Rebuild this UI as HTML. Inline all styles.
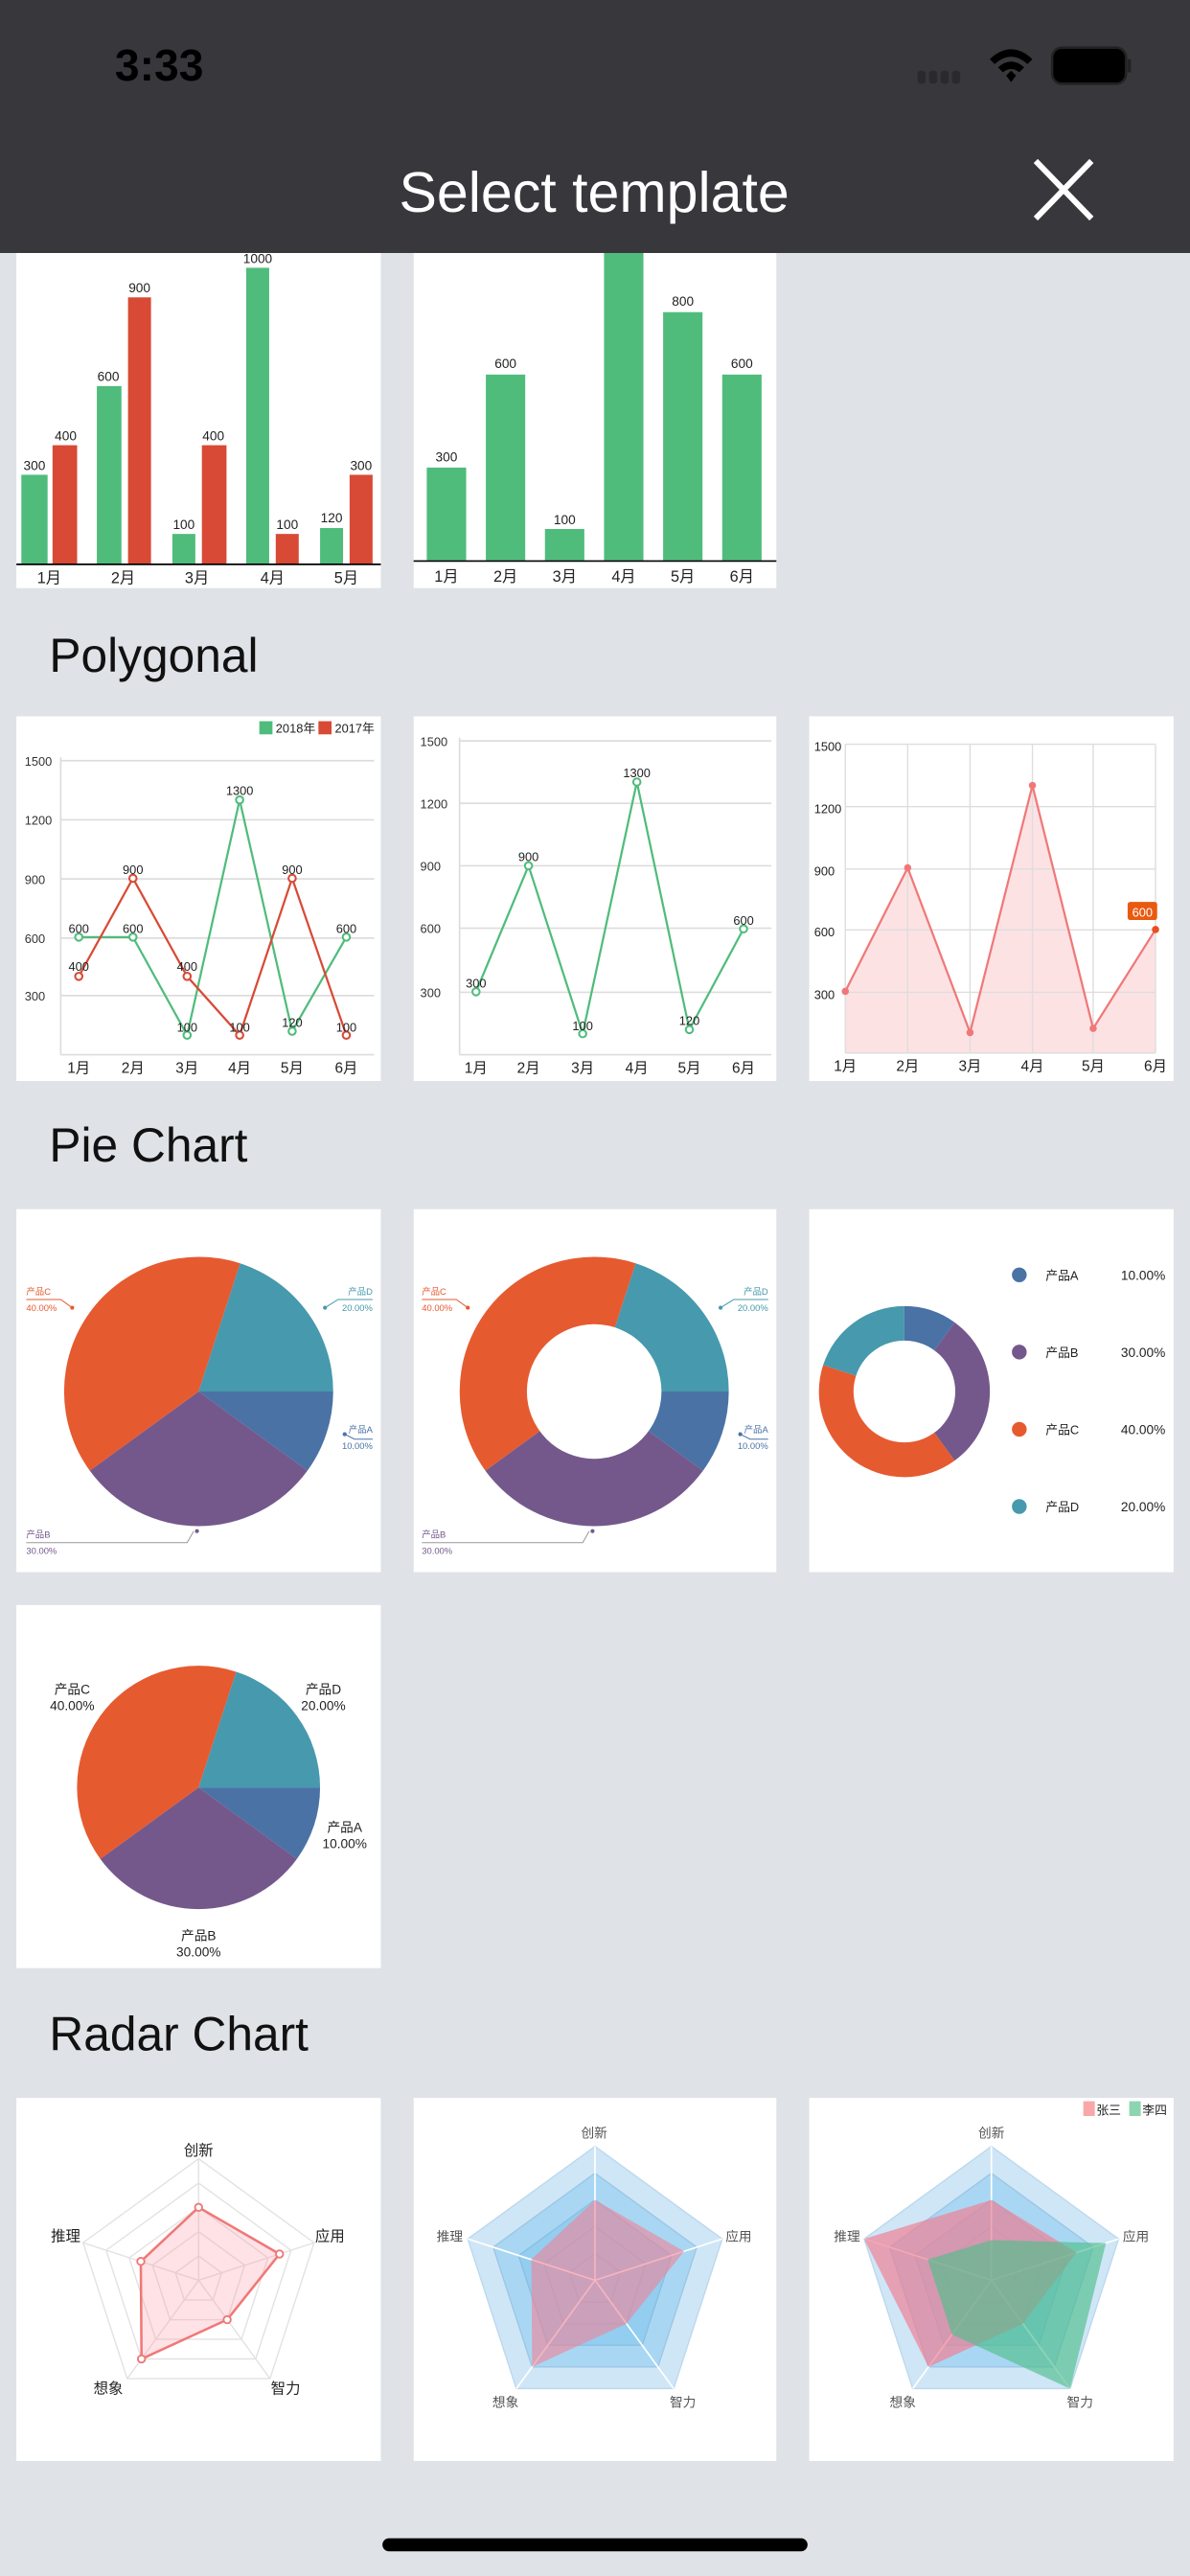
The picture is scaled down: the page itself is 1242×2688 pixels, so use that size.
<!DOCTYPE html>
<html><head><meta charset="utf-8"><style>
html,body{margin:0;padding:0;background:#dfe2e6;}
svg{display:block}
text{font-family:"Liberation Sans","Noto Sans CJK SC",sans-serif;}
</style></head><body>
<svg width="1242" height="2688" viewBox="0 0 725 1568" preserveAspectRatio="none" xmlns="http://www.w3.org/2000/svg">
<rect x="0" y="0" width="725" height="1568" fill="#dfe2e6"/>
<rect x="10" y="154" width="222" height="204" fill="#fff"/>
<rect x="252" y="154" width="221" height="204" fill="#fff"/>
<g fill="#4fbc7c">
<rect x="13" y="289" width="16" height="54"/><rect x="59" y="235" width="15" height="108"/><rect x="105" y="325" width="14" height="18"/><rect x="150" y="163" width="14" height="180"/><rect x="195" y="321.4" width="14" height="21.6"/>
</g>
<g fill="#d84a35">
<rect x="32" y="271" width="15" height="72"/><rect x="78" y="181" width="14" height="162"/><rect x="123" y="271" width="15" height="72"/><rect x="168" y="325" width="14" height="18"/><rect x="213" y="289" width="14" height="54"/>
</g>
<line x1="10" y1="343.5" x2="232" y2="343.5" stroke="#000" stroke-width="1"/>
<g font-size="8" text-anchor="middle" fill="#222">
<text x="21" y="286">300</text><text x="40" y="268">400</text><text x="66" y="232">600</text><text x="85" y="178">900</text><text x="112" y="322">100</text><text x="130" y="268">400</text><text x="157" y="160">1000</text><text x="175" y="322">100</text><text x="202" y="318">120</text><text x="220" y="286">300</text>
</g>
<g font-size="9.5" text-anchor="middle" fill="#222">
<text x="30" y="355">1月</text><text x="75" y="355">2月</text><text x="120" y="355">3月</text><text x="166" y="355">4月</text><text x="211" y="355">5月</text>
</g>
<g fill="#4fbc7c">
<rect x="260" y="284.6" width="24" height="56.4"/><rect x="296" y="228" width="24" height="113"/><rect x="332" y="322" width="24" height="19"/><rect x="368" y="154" width="24" height="187"/><rect x="404" y="190" width="24" height="151"/><rect x="440" y="228" width="24" height="113"/>
</g>
<line x1="252" y1="341.5" x2="473" y2="341.5" stroke="#000" stroke-width="1"/>
<g font-size="8" text-anchor="middle" fill="#222">
<text x="272" y="281">300</text><text x="308" y="224">600</text><text x="344" y="319">100</text><text x="416" y="186">800</text><text x="452" y="224">600</text>
</g>
<g font-size="9.5" text-anchor="middle" fill="#222">
<text x="272" y="354">1月</text><text x="308" y="354">2月</text><text x="344" y="354">3月</text><text x="380" y="354">4月</text><text x="416" y="354">5月</text><text x="452" y="354">6月</text>
</g>
<rect x="0" y="0" width="725" height="154" fill="#38373c"/>
<text x="70" y="49" font-size="27" font-weight="bold" fill="#000">3:33</text>
<g fill="#2a2a2e"><rect x="559" y="43" width="5" height="8" rx="2"/><rect x="566" y="43" width="5" height="8" rx="2"/><rect x="573" y="43" width="5" height="8" rx="2"/><rect x="580" y="43" width="5" height="8" rx="2"/></g>
<path d="M603 36 Q616 24 629 36 L626 39 Q616 30 606 39 Z M608 41 Q616 34 624 41 L621 44 Q616 40 611 44 Z M613 46 L616 43 L619 46 L616 50 Z" fill="#000"/>
<rect x="641" y="29" width="45" height="22" rx="6" fill="#000" stroke="#222" stroke-width="1.5"/>
<rect x="687" y="36" width="2" height="8" fill="#222"/>
<text x="362" y="129" font-size="34.5" fill="#fff" text-anchor="middle">Select template</text>
<path d="M631 98 L665 133 M665 98 L631 133" stroke="#fff" stroke-width="3.5"/>
<g font-size="29" fill="#111">
<text x="30" y="409">Polygonal</text><text x="30" y="707">Pie Chart</text><text x="30" y="1248">Radar Chart</text>
</g>
<rect x="10" y="436" width="222" height="222" fill="#fff"/>
<g stroke="#ddd" stroke-width="1"><line x1="37" y1="463" x2="228" y2="463"/><line x1="37" y1="499" x2="228" y2="499"/><line x1="37" y1="535" x2="228" y2="535"/><line x1="37" y1="571" x2="228" y2="571"/><line x1="37" y1="606" x2="228" y2="606"/><line x1="37" y1="642" x2="228" y2="642"/><line x1="37" y1="461" x2="37" y2="642"/></g>
<g font-size="7.5" fill="#333"><text x="15" y="466">1500</text><text x="15" y="502">1200</text><text x="15" y="538">900</text><text x="15" y="574">600</text><text x="15" y="609">300</text></g>
<g font-size="9" fill="#222" text-anchor="middle"><text x="48" y="653">1月</text><text x="81" y="653">2月</text><text x="114" y="653">3月</text><text x="146" y="653">4月</text><text x="178" y="653">5月</text><text x="211" y="653">6月</text></g>
<rect x="158" y="439" width="8" height="8" fill="#4fbc7c"/><text x="168" y="446" font-size="7.5" fill="#222">2018年</text>
<rect x="194" y="439" width="8" height="8" fill="#d84a35"/><text x="204" y="446" font-size="7.5" fill="#222">2017年</text>
<polyline points="48,570.4 81,570.4 114,630.1 146,486.9 178,627.7 211,570.4" fill="none" stroke="#4fbc7c" stroke-width="1.3"/>
<polyline points="48,594.3 81,534.6 114,594.3 146,630.1 178,534.6 211,630.1" fill="none" stroke="#d84a35" stroke-width="1.3"/>
<g fill="#fff" stroke="#4fbc7c" stroke-width="1.2"><circle cx="48" cy="570.4" r="2.2"/><circle cx="81" cy="570.4" r="2.2"/><circle cx="114" cy="630.1" r="2.2"/><circle cx="146" cy="486.9" r="2.2"/><circle cx="178" cy="627.7" r="2.2"/><circle cx="211" cy="570.4" r="2.2"/></g>
<g fill="#fff" stroke="#d84a35" stroke-width="1.2"><circle cx="48" cy="594.3" r="2.2"/><circle cx="81" cy="534.6" r="2.2"/><circle cx="114" cy="594.3" r="2.2"/><circle cx="146" cy="630.1" r="2.2"/><circle cx="178" cy="534.6" r="2.2"/><circle cx="211" cy="630.1" r="2.2"/></g>
<g font-size="7.5" fill="#222" text-anchor="middle"><text x="48" y="568">600</text><text x="81" y="568">600</text><text x="114" y="628">100</text><text x="146" y="484">1300</text><text x="178" y="625">120</text><text x="211" y="568">600</text><text x="48" y="591">400</text><text x="81" y="532">900</text><text x="114" y="591">400</text><text x="146" y="628">100</text><text x="178" y="532">900</text><text x="211" y="628">100</text></g>
<rect x="252" y="436" width="221" height="222" fill="#fff"/>
<g stroke="#ddd" stroke-width="1"><line x1="280" y1="451" x2="470" y2="451"/><line x1="280" y1="489" x2="470" y2="489"/><line x1="280" y1="527" x2="470" y2="527"/><line x1="280" y1="565" x2="470" y2="565"/><line x1="280" y1="604" x2="470" y2="604"/><line x1="280" y1="642" x2="470" y2="642"/><line x1="280" y1="449" x2="280" y2="642"/></g>
<g font-size="7.5" fill="#333"><text x="256" y="454">1500</text><text x="256" y="492">1200</text><text x="256" y="530">900</text><text x="256" y="568">600</text><text x="256" y="607">300</text></g>
<g font-size="9" fill="#222" text-anchor="middle"><text x="290" y="653">1月</text><text x="322" y="653">2月</text><text x="355" y="653">3月</text><text x="388" y="653">4月</text><text x="420" y="653">5月</text><text x="453" y="653">6月</text></g>
<polyline points="290,603.7 322,527 355,629.2 388,476 420,626.7 453,565.4" fill="none" stroke="#4fbc7c" stroke-width="1.3"/>
<g fill="#fff" stroke="#4fbc7c" stroke-width="1.2"><circle cx="290" cy="603.7" r="2.2"/><circle cx="322" cy="527" r="2.2"/><circle cx="355" cy="629.2" r="2.2"/><circle cx="388" cy="476" r="2.2"/><circle cx="420" cy="626.7" r="2.2"/><circle cx="453" cy="565.4" r="2.2"/></g>
<g font-size="7.5" fill="#222" text-anchor="middle"><text x="290" y="601">300</text><text x="322" y="524">900</text><text x="355" y="627">100</text><text x="388" y="473">1300</text><text x="420" y="624">120</text><text x="453" y="563">600</text></g>
<rect x="493" y="436" width="222" height="222" fill="#fff"/>
<polygon points="515,641 515,603.4 553,528.2 591,628.5 629,478.1 666,626 704,565.8 704,641" fill="#fde2e4"/>
<g stroke="#ddd" stroke-width="0.8"><line x1="515" y1="453" x2="704" y2="453"/><line x1="515" y1="491" x2="704" y2="491"/><line x1="515" y1="529" x2="704" y2="529"/><line x1="515" y1="566" x2="704" y2="566"/><line x1="515" y1="604" x2="704" y2="604"/><line x1="515" y1="641" x2="704" y2="641"/><line x1="515" y1="453" x2="515" y2="641"/><line x1="553" y1="453" x2="553" y2="641"/><line x1="591" y1="453" x2="591" y2="641"/><line x1="629" y1="453" x2="629" y2="641"/><line x1="666" y1="453" x2="666" y2="641"/><line x1="704" y1="453" x2="704" y2="641"/></g>
<g font-size="7.5" fill="#222"><text x="496" y="457">1500</text><text x="496" y="495">1200</text><text x="496" y="533">900</text><text x="496" y="570">600</text><text x="496" y="608">300</text></g>
<g font-size="9" fill="#222" text-anchor="middle"><text x="515" y="652">1月</text><text x="553" y="652">2月</text><text x="591" y="652">3月</text><text x="629" y="652">4月</text><text x="666" y="652">5月</text><text x="704" y="652">6月</text></g>
<polyline points="515,603.4 553,528.2 591,628.5 629,478.1 666,626 704,565.8" fill="none" stroke="#f07878" stroke-width="1.3"/>
<g fill="#f07878"><circle cx="515" cy="603.4" r="2.2"/><circle cx="553" cy="528.2" r="2.2"/><circle cx="591" cy="628.5" r="2.2"/><circle cx="629" cy="478.1" r="2.2"/><circle cx="666" cy="626" r="2.2"/><circle cx="704" cy="565.8" r="2.2" fill="#e85020"/></g>
<rect x="687" y="549" width="18" height="11" rx="1.5" fill="#e85a10"/><text x="696" y="558" font-size="7.5" fill="#fff" text-anchor="middle">600</text>
<rect x="10" y="736" width="222" height="221" fill="#fff"/>
<path d="M121 847 L203 847 A82 82 0 0 1 187.3 895.2 Z" fill="#4a72a5"/>
<path d="M121 847 L187.3 895.2 A82 82 0 0 1 54.7 895.2 Z" fill="#74588c"/>
<path d="M121 847 L54.7 895.2 A82 82 0 0 1 146.3 769 Z" fill="#e65a30"/>
<path d="M121 847 L146.3 769 A82 82 0 0 1 203 847 Z" fill="#4799ad"/>
<rect x="252" y="736" width="221" height="221" fill="#fff"/>
<path d="M362 847 L444 847 A82 82 0 0 1 428.3 895.2 Z" fill="#4a72a5"/>
<path d="M362 847 L428.3 895.2 A82 82 0 0 1 295.7 895.2 Z" fill="#74588c"/>
<path d="M362 847 L295.7 895.2 A82 82 0 0 1 387.3 769 Z" fill="#e65a30"/>
<path d="M362 847 L387.3 769 A82 82 0 0 1 444 847 Z" fill="#4799ad"/>
<circle cx="362" cy="847" r="41" fill="#fff"/>
<g font-size="5.5">
<g fill="#e65a30"><text x="16" y="788">产品C</text><text x="16" y="798">40.00%</text><text x="257" y="788">产品C</text><text x="257" y="798">40.00%</text></g>
<g fill="#4799ad" text-anchor="end"><text x="227" y="788">产品D</text><text x="227" y="798">20.00%</text><text x="468" y="788">产品D</text><text x="468" y="798">20.00%</text></g>
<g fill="#4a72a5" text-anchor="end"><text x="227" y="872">产品A</text><text x="227" y="882">10.00%</text><text x="468" y="872">产品A</text><text x="468" y="882">10.00%</text></g>
<g fill="#74588c"><text x="16" y="936">产品B</text><text x="16" y="946">30.00%</text><text x="257" y="936">产品B</text><text x="257" y="946">30.00%</text></g>
</g>
<g fill="none" stroke-width="0.6">
<path d="M16 791 L37 791 L44 796" stroke="#e65a30"/><path d="M257 791 L278 791 L285 796" stroke="#e65a30"/>
<path d="M227 791 L206 791 L198 796" stroke="#4799ad"/><path d="M468 791 L447 791 L439 796" stroke="#4799ad"/>
<path d="M227 876 L216 876 L210 873" stroke="#4a72a5"/><path d="M468 876 L457 876 L451 873" stroke="#4a72a5"/>
<path d="M16 939 L114 939 L118 932" stroke="#999"/><path d="M257 939 L355 939 L359 932" stroke="#999"/>
</g>
<g><circle cx="44" cy="796" r="1.2" fill="#e65a30"/><circle cx="285" cy="796" r="1.2" fill="#e65a30"/><circle cx="198" cy="796" r="1.2" fill="#4799ad"/><circle cx="439" cy="796" r="1.2" fill="#4799ad"/><circle cx="210" cy="873" r="1.2" fill="#4a72a5"/><circle cx="451" cy="873" r="1.2" fill="#4a72a5"/><circle cx="120" cy="932" r="1.2" fill="#74588c"/><circle cx="361" cy="932" r="1.2" fill="#74588c"/></g>
<rect x="493" y="736" width="222" height="221" fill="#fff"/>
<path d="M551 847 L551 795 A52 52 0 0 1 581.6 804.9 Z" fill="#4a72a5"/>
<path d="M551 847 L581.6 804.9 A52 52 0 0 1 581.6 889.1 Z" fill="#74588c"/>
<path d="M551 847 L581.6 889.1 A52 52 0 0 1 501.5 830.9 Z" fill="#e65a30"/>
<path d="M551 847 L501.5 830.9 A52 52 0 0 1 551 795 Z" fill="#4799ad"/>
<circle cx="551" cy="847" r="31" fill="#fff"/>
<circle cx="621" cy="776" r="4.5" fill="#4a72a5"/><circle cx="621" cy="823" r="4.5" fill="#74588c"/><circle cx="621" cy="870" r="4.5" fill="#e65a30"/><circle cx="621" cy="917" r="4.5" fill="#4799ad"/>
<g font-size="7.5" fill="#222"><text x="637" y="779">产品A</text><text x="637" y="826">产品B</text><text x="637" y="873">产品C</text><text x="637" y="920">产品D</text></g>
<g font-size="8" fill="#222" text-anchor="end"><text x="710" y="779">10.00%</text><text x="710" y="826">30.00%</text><text x="710" y="873">40.00%</text><text x="710" y="920">20.00%</text></g>
<rect x="10" y="977" width="222" height="221" fill="#fff"/>
<path d="M121 1088 L195 1088 A74 74 0 0 1 180.9 1131.5 Z" fill="#4a72a5"/>
<path d="M121 1088 L180.9 1131.5 A74 74 0 0 1 61.1 1131.5 Z" fill="#74588c"/>
<path d="M121 1088 L61.1 1131.5 A74 74 0 0 1 143.9 1017.6 Z" fill="#e65a30"/>
<path d="M121 1088 L143.9 1017.6 A74 74 0 0 1 195 1088 Z" fill="#4799ad"/>
<g font-size="8" fill="#222" text-anchor="middle"><text x="44" y="1031">产品C</text><text x="44" y="1041">40.00%</text><text x="197" y="1031">产品D</text><text x="197" y="1041">20.00%</text><text x="210" y="1115">产品A</text><text x="210" y="1125">10.00%</text><text x="121" y="1181">产品B</text><text x="121" y="1191">30.00%</text></g>
<rect x="10" y="1277" width="222" height="221" fill="#fff"/>
<g transform="translate(121,1388) scale(74)" stroke="#e2e2e2" stroke-width="0.011" fill="none">
<polygon points="0,-1 0.951,-0.309 0.588,0.809 -0.588,0.809 -0.951,-0.309"/>
<polygon points="0,-.8 .761,-.247 .470,.647 -.470,.647 -.761,-.247"/>
<polygon points="0,-.6 .571,-.185 .353,.485 -.353,.485 -.571,-.185"/>
<polygon points="0,-.4 .380,-.124 .235,.324 -.235,.324 -.380,-.124"/>
<polygon points="0,-.2 .190,-.062 .118,.162 -.118,.162 -.190,-.062"/>
<path d="M0 0 L0 -1 M0 0 L0.951 -0.309 M0 0 L0.588 0.809 M0 0 L-0.588 0.809 M0 0 L-0.951 -0.309"/>
<polygon points="0,-.6 .666,-.216 .235,.324 -.470,.647 -.476,-.155" fill="rgba(250,150,160,0.28)" stroke="#f07878" stroke-width="0.02"/>
</g>
<g fill="#fff" stroke="#f07878" stroke-width="1.1"><circle cx="121" cy="1343.6" r="2.2"/><circle cx="170.3" cy="1372" r="2.2"/><circle cx="138.4" cy="1412" r="2.2"/><circle cx="86.2" cy="1435.9" r="2.2"/><circle cx="85.8" cy="1376.5" r="2.2"/></g>
<g font-size="9" fill="#222" text-anchor="middle"><text x="121" y="1312">创新</text><text x="201" y="1364">应用</text><text x="40" y="1364">推理</text><text x="66" y="1457">想象</text><text x="174" y="1457">智力</text></g>
<rect x="252" y="1277" width="221" height="221" fill="#fff"/>
<g transform="translate(362.5,1388) scale(81.5)" stroke-width="0.01">
<polygon points="0,-1 0.951,-0.309 0.588,0.809 -0.588,0.809 -0.951,-0.309" fill="#cfe6f7" stroke="#bcd8ee"/>
<polygon points="0,-.8 .761,-.247 .470,.647 -.470,.647 -.761,-.247" fill="#a9d7f3" stroke="#9cc7e4"/>
<polygon points="0,-.6 .571,-.185 .353,.485 -.353,.485 -.571,-.185" fill="#93cdef" stroke="#8cbfdf"/>
<polygon points="0,-.4 .380,-.124 .235,.324 -.235,.324 -.380,-.124" fill="none" stroke="#8cbfdf"/>
<polygon points="0,-.2 .190,-.062 .118,.162 -.118,.162 -.190,-.062" fill="none" stroke="#8cbfdf"/>
<path d="M0 0 L0 -1 M0 0 L0.951 -0.309 M0 0 L0.588 0.809 M0 0 L-0.588 0.809 M0 0 L-0.951 -0.309" stroke="#fff" stroke-width="0.012"/>
<polygon points="0,-.6 .666,-.216 .235,.324 -.470,.647 -.476,-.155" fill="rgba(240,130,150,0.6)" stroke="none"/>
</g>
<g font-size="8" fill="#555" text-anchor="middle"><text x="362" y="1301">创新</text><text x="450" y="1364">应用</text><text x="274" y="1364">推理</text><text x="308" y="1465">想象</text><text x="416" y="1465">智力</text></g>
<rect x="493" y="1277" width="222" height="221" fill="#fff"/>
<g transform="translate(604,1388) scale(81.5)" stroke-width="0.01">
<polygon points="0,-1 0.951,-0.309 0.588,0.809 -0.588,0.809 -0.951,-0.309" fill="#cfe6f7" stroke="#bcd8ee"/>
<polygon points="0,-.8 .761,-.247 .470,.647 -.470,.647 -.761,-.247" fill="#a9d7f3" stroke="#9cc7e4"/>
<polygon points="0,-.6 .571,-.185 .353,.485 -.353,.485 -.571,-.185" fill="#93cdef" stroke="#8cbfdf"/>
<polygon points="0,-.4 .380,-.124 .235,.324 -.235,.324 -.380,-.124" fill="none" stroke="#8cbfdf"/>
<polygon points="0,-.2 .190,-.062 .118,.162 -.118,.162 -.190,-.062" fill="none" stroke="#8cbfdf"/>
<path d="M0 0 L0 -1 M0 0 L0.951 -0.309 M0 0 L0.588 0.809 M0 0 L-0.588 0.809 M0 0 L-0.951 -0.309" stroke="#fff" stroke-width="0.012"/>
<polygon points="0,-.6 .637,-.207 .235,.324 -.470,.647 -.951,-.309" fill="rgba(240,130,150,0.7)" stroke="none"/>
<polygon points="0,-.3 .856,-.278 .588,.809 -.294,.405 -.476,-.155" fill="rgba(80,190,140,0.65)" stroke="none"/>
</g>
<rect x="660" y="1279" width="7" height="9" fill="#f8a8a8"/><text x="668" y="1287" font-size="7.5" fill="#222">张三</text>
<rect x="688" y="1279" width="7" height="9" fill="#8dd5b0"/><text x="696" y="1287" font-size="7.5" fill="#222">李四</text>
<g font-size="8" fill="#555" text-anchor="middle"><text x="604" y="1301">创新</text><text x="692" y="1364">应用</text><text x="516" y="1364">推理</text><text x="550" y="1465">想象</text><text x="658" y="1465">智力</text></g>
<rect x="233" y="1545" width="259" height="8" rx="4" fill="#000"/>
</svg>
</body></html>
